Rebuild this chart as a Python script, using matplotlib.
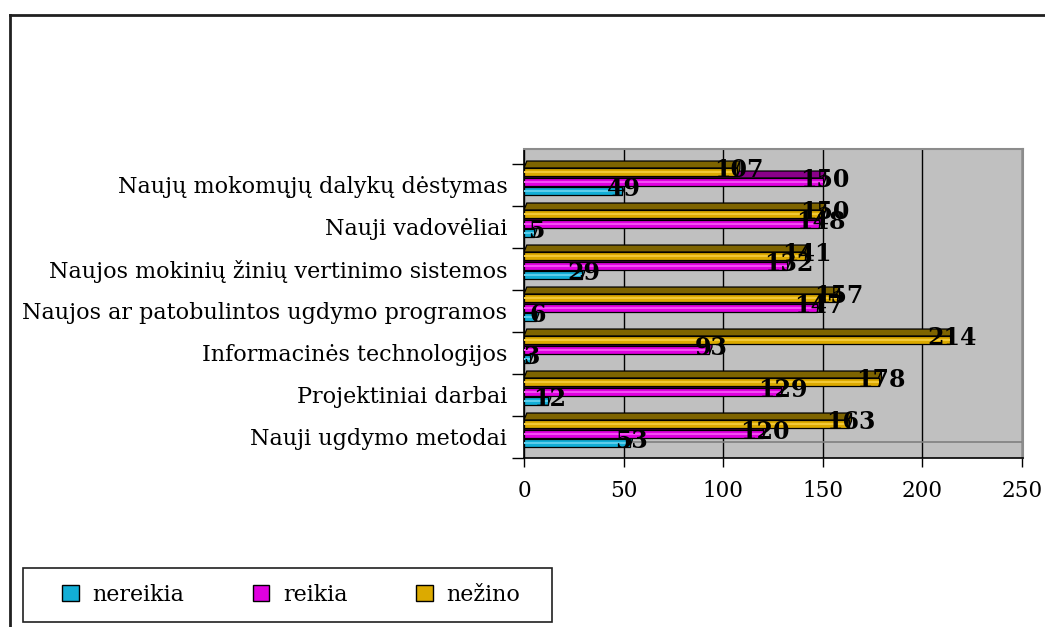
import matplotlib
matplotlib.use("Agg")
import matplotlib.pyplot as plt
from matplotlib.patches import Polygon, Rectangle, Patch
from matplotlib.lines import Line2D
import numpy as np

categories = [
    "Nauji ugdymo metodai",
    "Projektiniai darbai",
    "Informacinės technologijos",
    "Naujos ar patobulintos ugdymo programos",
    "Naujos mokinių žinių vertinimo sistemos",
    "Nauji vadovėliai",
    "Naujų mokomųjų dalykų dėstymas",
]
nereikia = [53, 12, 3, 6, 29, 5, 49]
reikia = [120, 129, 93, 147, 132, 148, 150]
nezino = [163, 178, 214, 157, 141, 150, 107]
series_names = ["nereikia", "reikia", "nežino"]
xticks = [0, 50, 100, 150, 200, 250]

front_cols = ["#12AED6", "#E000E0", "#DCAA00"]
light_cols = ["#5CCDEB", "#F24CF2", "#F2C836"]
face_cols = ["#06708A", "#8A008A", "#7E6400"]

W, H = 1045, 627
fig = plt.figure(figsize=(W / 100, H / 100), dpi=100)
fig.patch.set_facecolor("white")

ax = fig.add_axes([524 / W, 1 - 458 / H, 499 / W, 309 / H])
ax.set_facecolor("#C0C0C0")
ax.set_xlim(0, 250.5)
ax.set_ylim(-0.5, -0.5 + 309 / 42)

FONT = "DejaVu Serif"
offs = [-0.238, -0.024, 0.214]  # bottom of front face relative to category centre
h = 0.19
dz = 7 / 42
dx = 1.4

y = np.arange(len(categories))
data = [nereikia, reikia, nezino]
for s, vals in enumerate(data):
    bottoms = y + offs[s]
    ax.barh(bottoms, vals, height=h, align="edge", color=front_cols[s],
            edgecolor="black", linewidth=0.9, zorder=4)
    # highlight stripe for a shaded look
    ax.barh(bottoms + h * 0.35, vals, height=h * 0.3, align="edge", color=light_cols[s],
            edgecolor="none", linewidth=0, zorder=4.1)
    for b, v in zip(bottoms, vals):
        top = b + h
        ax.add_patch(Polygon([(0, top), (v, top), (v + dx, top + dz), (dx, top + dz)],
                             closed=True, facecolor=face_cols[s], edgecolor="black",
                             linewidth=0.9, zorder=3))
        ax.add_patch(Polygon([(v, b), (v, top), (v + dx, top + dz), (v + dx, b + dz)],
                             closed=True, facecolor=face_cols[s], edgecolor="black",
                             linewidth=0.9, zorder=3))
for s, vals in enumerate(data):
    for yi, v in zip(y, vals):
        ax.text(v + 1, yi + offs[s] + h / 2 + 0.04, str(v), ha="center", va="center",
                fontsize=17, fontweight="bold", family=FONT, color="black", zorder=6)

# wall/floor
ax.axhline(-0.5 + 16 / 42, color="#808080", linewidth=1.2, zorder=1.5)
ax.grid(axis="x", color="black", linewidth=1.0, zorder=1)
ax.set_axisbelow(True)

for side in ["top", "right"]:
    ax.spines[side].set_color("#8C8C8C")
    ax.spines[side].set_linewidth(1.5)
for side in ["left", "bottom"]:
    ax.spines[side].set_color("black")
    ax.spines[side].set_linewidth(1.2)

ax.set_xticks(xticks)
ax.set_xticklabels([str(t) for t in xticks], family=FONT, fontsize=15.5)
ax.tick_params(axis="x", direction="out", length=6.5, width=1, pad=9, colors="black")
ax.set_yticks(y)
ax.set_yticklabels(categories, family=FONT, fontsize=16)
ax.tick_params(axis="y", which="major", length=0, pad=12)
ax.set_yticks(np.arange(-0.5, len(categories), 1.0), minor=True)
ax.tick_params(axis="y", which="minor", direction="out", length=8.6, width=1, color="black")

# outer frame (top and left visible)
fig.add_artist(Line2D([10 / W, 1], [1 - 15 / H, 1 - 15 / H], transform=fig.transFigure,
                      color="#202020", linewidth=2))
fig.add_artist(Line2D([10 / W, 10 / W], [0, 1 - 15 / H], transform=fig.transFigure,
                      color="#202020", linewidth=2))

# legend box
fig.add_artist(Rectangle((23 / W, 1 - 622 / H), (552 - 23) / W, (622 - 568) / H,
                         transform=fig.transFigure, facecolor="white", edgecolor="#202020",
                         linewidth=1.2, zorder=1))
handles = [Patch(facecolor=front_cols[i], edgecolor="black", linewidth=1.0) for i in range(3)]
leg = fig.legend(handles, series_names, loc="center left",
                 bbox_to_anchor=(62 / W, 1 - 595 / H), ncol=3, frameon=False,
                 prop={"family": FONT, "size": 16}, handlelength=0.75, handleheight=0.75,
                 handletextpad=0.6, columnspacing=3.1, borderaxespad=0, borderpad=0)
leg.set_zorder(2)

fig.savefig("out.png", dpi=100)
